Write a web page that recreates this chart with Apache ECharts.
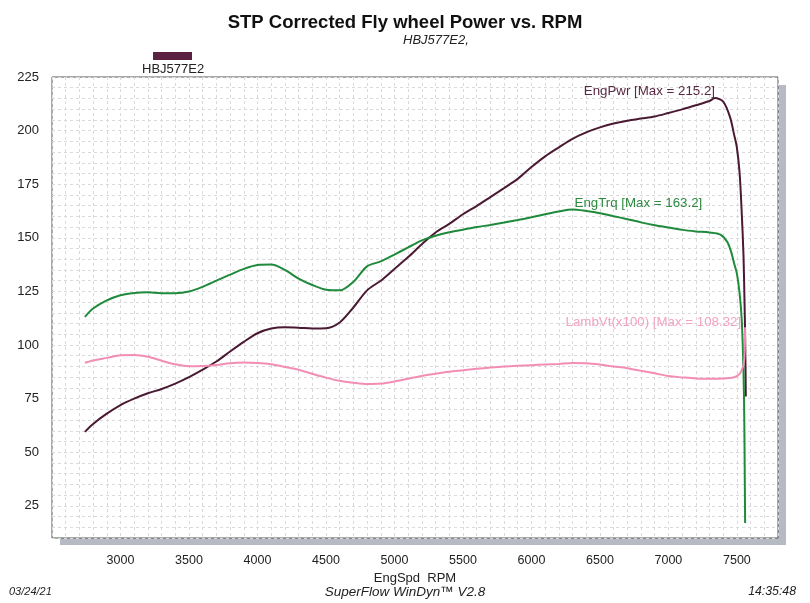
<!DOCTYPE html>
<html>
<head>
<meta charset="utf-8">
<script src="https://cdn.jsdelivr.net/npm/echarts@6/dist/echarts.min.js"></script>
<style>
  html, body { margin: 0; padding: 0; background: #fff; }
  #main { width: 810px; height: 603px; }
</style>
</head>
<body>
<div id="main"></div>
<script>
// EngPwr: [rpm, hp]
const pwrData = [
  [2740, 59.5], [2800, 63.2], [2900, 68], [3000, 72], [3100, 75], [3200, 77.5],
  [3300, 79.5], [3400, 82], [3500, 85], [3600, 88.5], [3700, 92.3], [3800, 97],
  [3900, 101.5], [4000, 105.5], [4100, 107.7], [4200, 108.3], [4300, 108.1],
  [4400, 107.7], [4500, 107.8], [4600, 110.5], [4700, 117.5], [4800, 125.5],
  [4900, 130], [5000, 135.5], [5100, 141], [5200, 147], [5300, 152.5],
  [5400, 156.5], [5500, 161], [5600, 164.8], [5700, 169], [5800, 173.2],
  [5900, 177.5], [6000, 183], [6100, 188], [6200, 192.2], [6300, 196.2],
  [6400, 199.2], [6500, 201.5], [6600, 203.3], [6700, 204.6], [6800, 205.6],
  [6900, 206.6], [7000, 208.2], [7100, 209.9], [7200, 211.8], [7300, 213.8],
  [7340, 215.2], [7400, 213.5], [7450, 206.3], [7480, 198], [7500, 192],
  [7520, 180], [7535, 162], [7548, 142], [7555, 122], [7560, 105], [7565, 76]
];

// EngTrq: [rpm, lb-ft]
const trqData = [
  [2740, 113.1], [2800, 117], [2900, 120.8], [3000, 123.2], [3100, 124.3],
  [3200, 124.6], [3300, 124.2], [3400, 124.2], [3500, 125], [3600, 127.2],
  [3700, 130], [3800, 132.8], [3900, 135.5], [4000, 137.3], [4100, 137.5],
  [4200, 135], [4300, 131], [4400, 128], [4500, 125.8], [4600, 125.5],
  [4700, 129.5], [4800, 136.7], [4900, 139], [5000, 142.2], [5100, 145.5],
  [5200, 148.8], [5300, 151], [5400, 152.6], [5500, 153.8], [5600, 155],
  [5700, 156], [5800, 157.1], [5900, 158.3], [6000, 159.6], [6100, 161],
  [6200, 162.3], [6300, 163.2], [6400, 162.5], [6500, 161.5], [6600, 160.1],
  [6700, 158.7], [6800, 157.2], [6900, 155.9], [7000, 154.8], [7100, 153.7],
  [7200, 153], [7300, 152.5], [7380, 151.5], [7430, 148], [7460, 143],
  [7480, 138], [7500, 133.3], [7520, 124], [7535, 112], [7545, 95],
  [7552, 75], [7556, 50], [7560, 17]
];

// LambVt(x100): [rpm, lambda*100]
const lamData = [
  [2740, 91.7], [2800, 92.8], [2900, 94], [3000, 95.2], [3100, 95.3],
  [3200, 94.5], [3300, 92.7], [3400, 91], [3500, 90.1], [3600, 90.2],
  [3700, 90.7], [3800, 91.5], [3900, 91.8], [4000, 91.6], [4100, 91],
  [4200, 89.8], [4300, 88.5], [4400, 86.6], [4500, 84.8], [4600, 83.3],
  [4700, 82.4], [4800, 81.8], [4900, 82], [5000, 83], [5100, 84.3],
  [5200, 85.6], [5300, 86.6], [5400, 87.5], [5500, 88.2], [5600, 88.9],
  [5700, 89.5], [5800, 90], [5900, 90.3], [6000, 90.6], [6100, 90.9],
  [6200, 91.2], [6300, 91.6], [6400, 91.5], [6500, 90.9], [6600, 90],
  [6700, 89.2], [6800, 88], [6900, 86.8], [7000, 85.5], [7100, 84.9],
  [7200, 84.4], [7300, 84.3], [7400, 84.4], [7480, 85], [7520, 86.5],
  [7545, 90], [7553, 93], [7558, 100], [7560, 108.32]
];

const xLabels = [3000, 3500, 4000, 4500, 5000, 5500, 6000, 6500, 7000, 7500];
const yLabels = [25, 50, 75, 100, 125, 150, 175, 200, 225];

const PWR = '#4a1a33';
const TRQ = '#1f8a3b';
const LAM = '#f28db4';
const FONT = '"Liberation Sans", Arial, sans-serif';

const chart = echarts.init(document.getElementById('main'), null, {renderer: 'canvas'});

const gridLine = {show: true, lineStyle: {color: '#dadada', type: [3, 3], width: 1}};

function peakLabel(text, color, pos, offset) {
    return {
        symbol: 'circle',
        symbolSize: 0,
        silent: true,
        data: [{
            type: 'max',
            label: {
                show: true,
                position: pos,
                distance: 2,
                offset: offset,
                color: color,
                fontFamily: FONT,
                fontSize: 13.3,
                formatter: p => text + ' [Max = ' + p.value + ']'
            }
        }]
    };
}

const option = {
    backgroundColor: '#fff',
    animation: false,
    title: [
        {
            text: 'STP Corrected Fly wheel Power vs. RPM',
            left: 'center', top: 8,
            textStyle: {fontFamily: FONT, fontSize: 18.5, fontWeight: 'bold', color: '#111'}
        },
        {
            text: 'HBJ577E2,',
            left: 398, top: 29,
            textStyle: {fontFamily: FONT, fontSize: 13, fontStyle: 'italic', fontWeight: 'normal', color: '#222'}
        }
    ],
    grid: {
        show: true,
        left: 52, right: 32, top: 77, bottom: 65,
        backgroundColor: '#fff',
        borderColor: '#555',
        borderWidth: 1
    },
    xAxis: {
        type: 'value',
        min: 2500, max: 7800, interval: 100,
        name: 'EngSpd  RPM',
        nameLocation: 'middle',
        nameGap: 32,
        nameTextStyle: {fontFamily: FONT, fontSize: 13, color: '#222'},
        axisLine: {show: false},
        axisTick: {show: false},
        axisLabel: {
            margin: 16,
            fontFamily: FONT, fontSize: 12.5, color: '#222',
            formatter: v => xLabels.includes(v) ? String(v) : ''
        },
        splitLine: gridLine
    },
    yAxis: {
        type: 'value',
        min: 10, max: 225, interval: 5,
        axisLine: {show: false},
        axisTick: {show: false},
        axisLabel: {
            margin: 13,
            fontFamily: FONT, fontSize: 13, color: '#222',
            formatter: v => yLabels.includes(v) ? String(v) : ''
        },
        splitLine: gridLine
    },
    graphic: [
        // drop shadow behind the plot frame
        {type: 'rect', z: -10, left: 60, top: 85, shape: {width: 726, height: 460}, style: {fill: '#b6bac2'}},
        {type: 'rect', left: 153, top: 52, shape: {width: 39, height: 8}, style: {fill: '#5b2142'}},
        {type: 'text', left: 142, top: 63, style: {text: 'HBJ577E2', fontFamily: FONT, fontSize: 13, fill: '#222'}},
        {type: 'text', left: 9, top: 586, style: {text: '03/24/21', fontFamily: FONT, fontSize: 11, fontStyle: 'italic', fill: '#222'}},
        {type: 'text', left: 'center', top: 585, style: {text: 'SuperFlow WinDyn™ V2.8', fontFamily: FONT, fontSize: 13.5, fontStyle: 'italic', fill: '#222'}},
        {type: 'text', right: 14, top: 586, style: {text: '14:35:48', fontFamily: FONT, fontSize: 12.3, fontStyle: 'italic', fill: '#222'}}
    ],
    series: [
        {
            name: 'EngPwr', type: 'line', data: pwrData, smooth: 0.3,
            showSymbol: false, lineStyle: {color: PWR, width: 2}, itemStyle: {color: PWR},
            markPoint: peakLabel('EngPwr', '#5a2844', 'left', [2, -7])
        },
        {
            name: 'EngTrq', type: 'line', data: trqData, smooth: 0.3,
            showSymbol: false, lineStyle: {color: TRQ, width: 2}, itemStyle: {color: TRQ},
            markPoint: peakLabel('EngTrq', '#2a8a3e', 'right', [0, -6])
        },
        {
            name: 'LambVt', type: 'line', data: lamData, smooth: 0.3,
            showSymbol: false, lineStyle: {color: LAM, width: 2}, itemStyle: {color: LAM},
            markPoint: peakLabel('LambVt(x100)', '#f3a2c2', 'left', [-2, -5])
        }
    ]
};

chart.setOption(option);
</script>
</body>
</html>
